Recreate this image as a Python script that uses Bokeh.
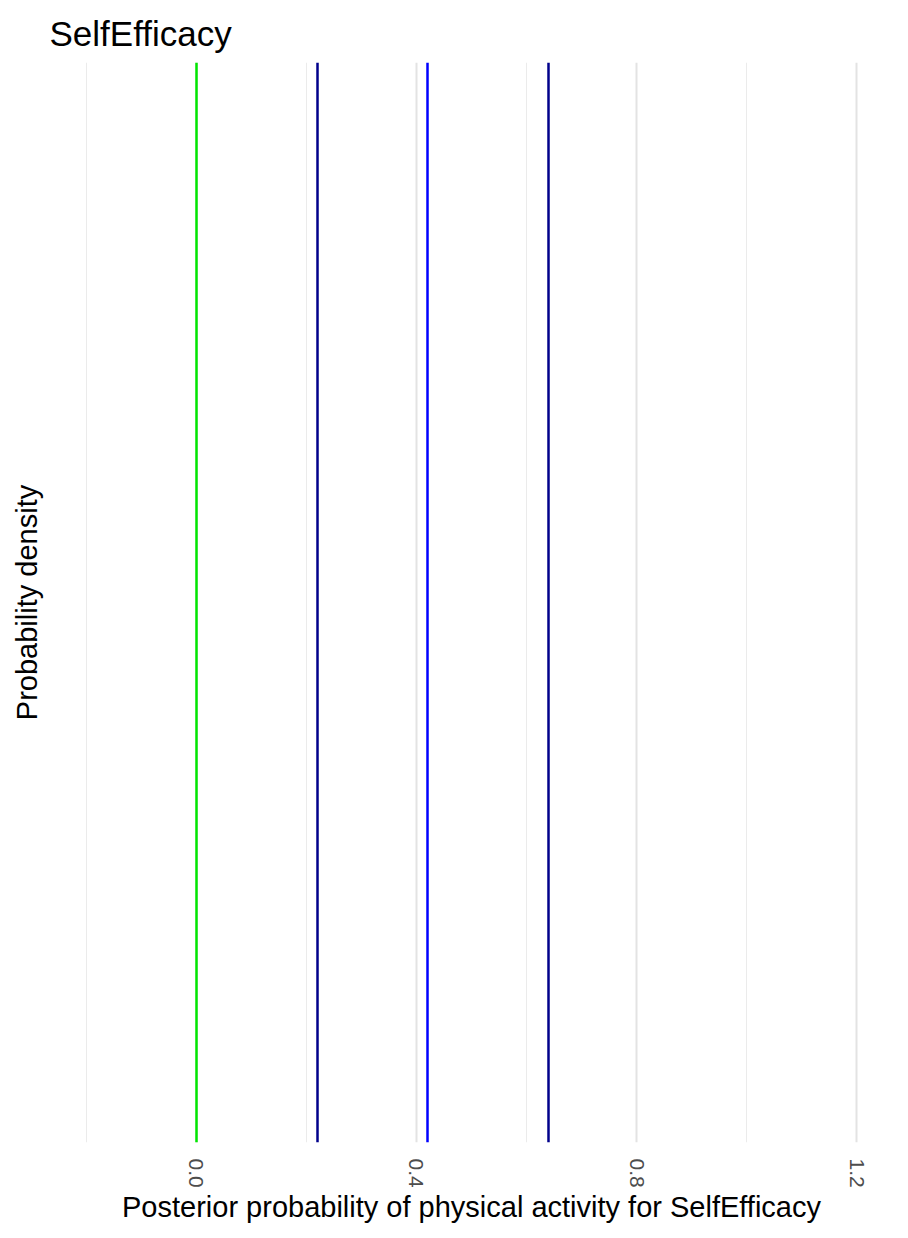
from bokeh.plotting import figure
from bokeh.models import FixedTicker, NumeralTickFormatter
from bokeh.embed import file_html
from bokeh.resources import INLINE

# Data
major_ticks = [0.0, 0.4, 0.8, 1.2]
minor_ticks = [-0.2, 0.2, 0.6, 1.0]
line_positions = [0.0, 0.22, 0.42, 0.64]
line_colors = ["#00E600", "#00008B", "#0000FF", "#00008B"]
title_text = "SelfEfficacy"
x_label = "Posterior probability of physical activity for SelfEfficacy"
y_label = "Probability density"

FONT = "Liberation Sans"

p = figure(width=908, height=1238, x_range=(-0.2527, 1.2527), y_range=(0, 1),
           output_backend="svg", toolbar_location=None,
           min_border_left=57, min_border_right=23, min_border_top=62, min_border_bottom=96)
p.outline_line_color = None
p.background_fill_color = "white"
p.border_fill_color = "white"

p.title.text = title_text
p.title.text_font = FONT
p.title.text_font_size = "35px"
p.title.text_font_style = "normal"
p.title.text_color = "black"
p.title.vertical_align = "top"
p.title.standoff = 16
p.title.offset = -8

xa = p.xaxis[0]
xa.ticker = FixedTicker(ticks=major_ticks, minor_ticks=minor_ticks)
xa.formatter = NumeralTickFormatter(format="0.0")
xa.major_label_orientation = "vertical"
xa.major_label_text_font = FONT
xa.major_label_text_font_size = "21px"
xa.major_label_text_color = "#4D4D4D"
xa.major_label_standoff = 10
xa.major_tick_line_color = None
xa.minor_tick_line_color = None
xa.axis_line_color = None
xa.axis_label = x_label
xa.axis_label_text_font = FONT
xa.axis_label_text_font_size = "29px"
xa.axis_label_text_font_style = "normal"
xa.axis_label_text_color = "black"
xa.axis_label_standoff = 0

ya = p.yaxis[0]
ya.ticker = FixedTicker(ticks=[])
ya.major_label_standoff = 0
ya.major_tick_line_color = None
ya.minor_tick_line_color = None
ya.axis_line_color = None
ya.axis_label = y_label
ya.axis_label_text_font = FONT
ya.axis_label_text_font_size = "29px"
ya.axis_label_text_font_style = "normal"
ya.axis_label_text_color = "black"
ya.axis_label_standoff = 15

p.ygrid.visible = False
p.xgrid.grid_line_color = "#E3E3E3"
p.xgrid.grid_line_width = 2
p.xgrid.minor_grid_line_color = "#EBEBEB"
p.xgrid.minor_grid_line_width = 1

p.vspan(x=line_positions, line_color=line_colors, line_width=2.5)

open("out.html", "w").write(file_html(p, INLINE))
